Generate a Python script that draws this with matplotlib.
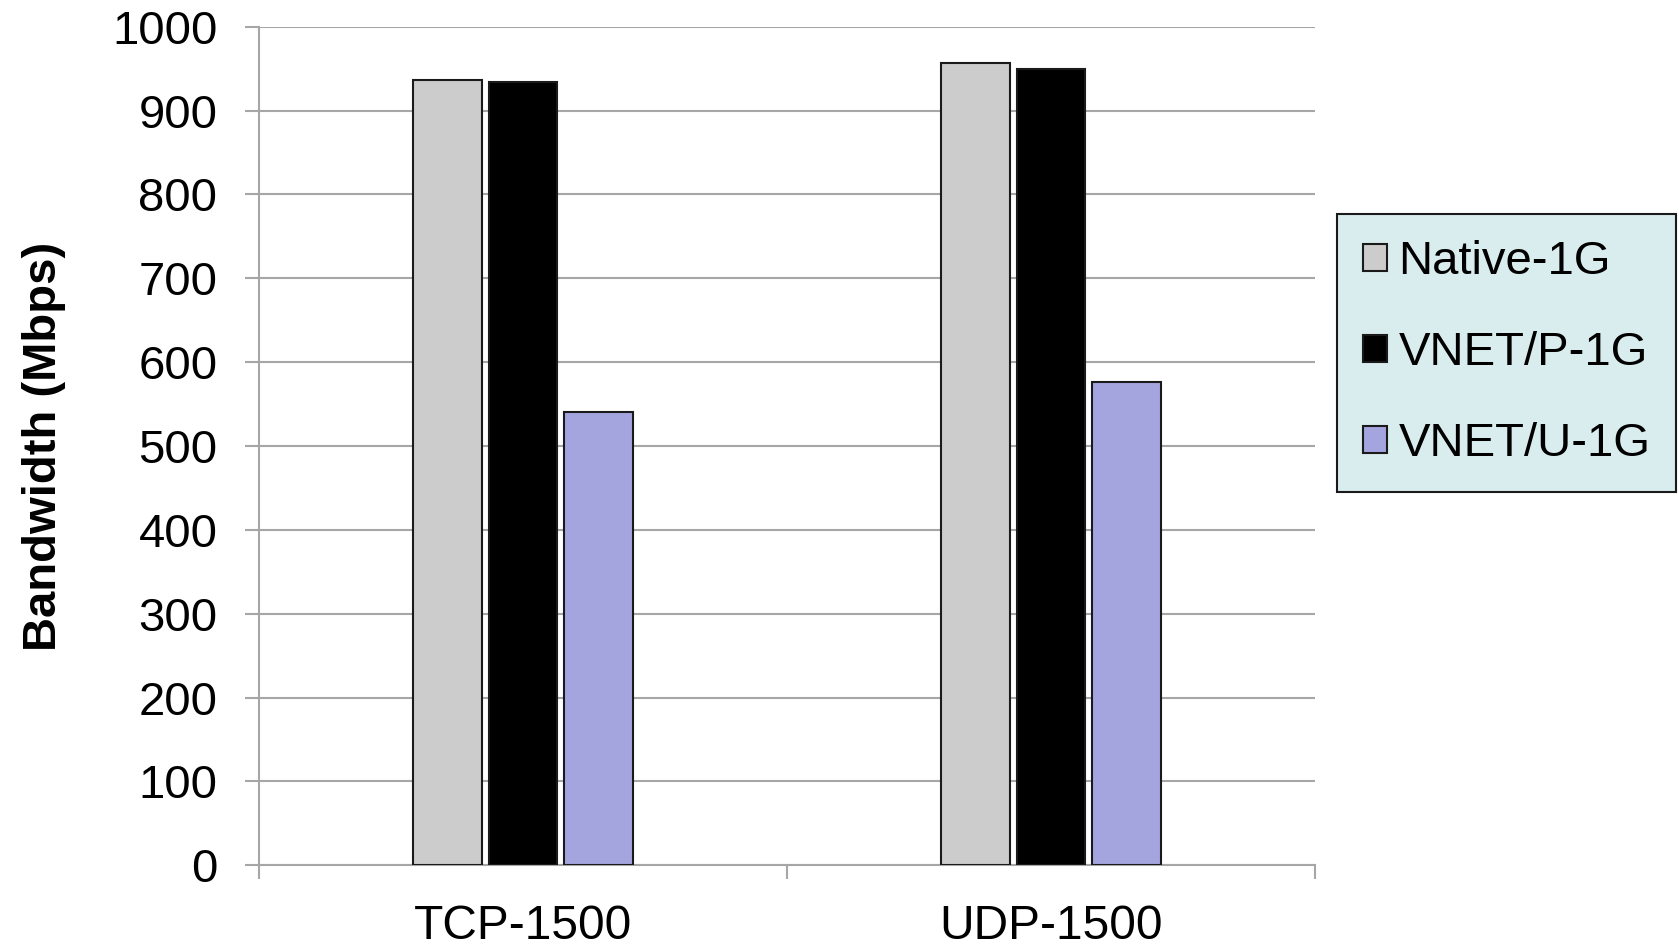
import numpy as np
import matplotlib.pyplot as plt

plt.rcParams['font.family'] = ['Liberation Sans', 'DejaVu Sans']

# data
categories = ["TCP-1500", "UDP-1500"]
series_names = ["Native-1G", "VNET/P-1G", "VNET/U-1G"]
native_1g = [936, 957]
vnet_p_1g = [934, 950]
vnet_u_1g = [540, 576]
yticks = [0, 100, 200, 300, 400, 500, 600, 700, 800, 900, 1000]

colors = ["#CCCCCC", "#000000", "#A4A5DF"]
grid_col = "#A6A6A6"

fig = plt.figure(figsize=(16.79, 9.44), dpi=100)
ax = fig.add_axes([0.1543, 0.0835, 0.6289, 0.8881])

x = np.arange(len(categories))
width = 0.13
step = 0.143
for i, (vals, name) in enumerate(zip([native_1g, vnet_p_1g, vnet_u_1g], series_names)):
    ax.bar(x + (i - 1) * step, vals, width, color=colors[i], edgecolor="#1a1a1a",
           linewidth=1.5, label=name, zorder=3)

ax.set_xlim(-0.5, 1.5)
ax.set_ylim(0, 1000)
ax.set_yticks(yticks)
ax.yaxis.grid(True, color=grid_col, linewidth=1.5, zorder=0)

# category labels in the middle, tick marks on the boundaries
ax.set_xticks(x)
ax.set_xticklabels(categories)
ax.set_xticks([-0.5, 0.5, 1.5], minor=True)
ax.tick_params(axis="x", which="major", length=0, pad=28, labelsize=34.5)
ax.tick_params(axis="x", which="minor", length=10, width=1.5, color=grid_col)
ax.tick_params(axis="y", length=10, width=1.5, color=grid_col, pad=20, labelsize=34)

for s in ["top", "right"]:
    ax.spines[s].set_visible(False)
for s in ["left", "bottom"]:
    ax.spines[s].set_color(grid_col)
    ax.spines[s].set_linewidth(1.5)

ax.set_ylabel("Bandwidth (Mbps)", fontsize=34, fontweight="bold")
ax.yaxis.set_label_coords(-0.183, 0.5)

leg = fig.legend(loc="upper left", bbox_to_anchor=(1337 / 1679, 1 - 214 / 944),
                 fontsize=34, frameon=True, fancybox=False, handlelength=0.5,
                 handleheight=0.5, handletextpad=0.25, labelspacing=1.0,
                 borderpad=0.55, borderaxespad=0)
leg.get_frame().set_facecolor("#DAEDEE")
leg.get_frame().set_edgecolor("#1a1a1a")
leg.get_frame().set_linewidth(1.5)
leg.get_frame().set_alpha(1)

fig.savefig("out.png", dpi=100)
